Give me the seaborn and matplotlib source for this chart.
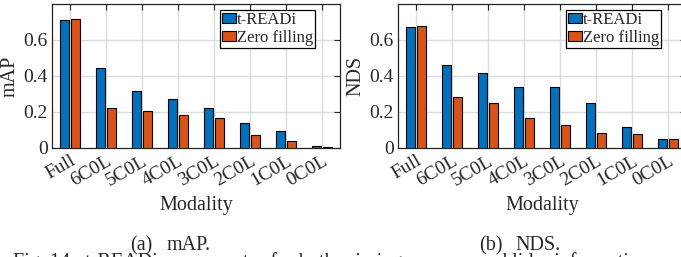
import matplotlib
matplotlib.use("Agg")
import matplotlib.pyplot as plt
import seaborn as sns
import pandas as pd

modalities = ["Full", "6C0L", "5C0L", "4C0L", "3C0L", "2C0L", "1C0L", "0C0L"]
methods = ["t-READi", "Zero filling"]
map_treadi = [0.711, 0.443, 0.318, 0.272, 0.222, 0.141, 0.096, 0.011]
map_zero = [0.715, 0.220, 0.207, 0.185, 0.167, 0.072, 0.037, 0.007]
nds_treadi = [0.674, 0.461, 0.418, 0.341, 0.337, 0.252, 0.117, 0.048]
nds_zero = [0.678, 0.285, 0.248, 0.165, 0.128, 0.085, 0.076, 0.048]
yticks = [0, 0.2, 0.4, 0.6]
ytick_labels = ["0", "0.2", "0.4", "0.6"]

sns.set_style("white")
plt.rcParams["font.family"] = ["Liberation Serif", "DejaVu Serif"]
plt.rcParams["mathtext.fontset"] = "stix"

blue = "#0072BD"
orange = "#D95319"
axcol = "#262626"

def long_df(a, b, name):
    return pd.DataFrame({
        "Modality": modalities * 2,
        name: list(a) + list(b),
        "Method": [methods[0]] * len(modalities) + [methods[1]] * len(modalities),
    })

df_map = long_df(map_treadi, map_zero, "mAP")
df_nds = long_df(nds_treadi, nds_zero, "NDS")

W, H = 681, 257
fig = plt.figure(figsize=(W / 100, H / 100), dpi=100)

ax_w = 288 / W
ax_h = 144 / H
ax_b = (H - 148) / H
ax1 = fig.add_axes([52 / W, ax_b, ax_w, ax_h])
ax2 = fig.add_axes([398 / W, ax_b, ax_w, ax_h])

for ax, df, col in [(ax1, df_map, "mAP"), (ax2, df_nds, "NDS")]:
    sns.barplot(data=df, x="Modality", y=col, hue="Method", order=modalities,
                hue_order=methods, palette=[blue, orange], saturation=1,
                width=0.56, gap=0.1, edgecolor="black", linewidth=0.8,
                ax=ax, zorder=3)
    ax.set_xlim(-0.5, 7.5)
    ax.set_ylim(0, 0.8)
    ax.set_yticks(yticks)
    ax.set_yticklabels(ytick_labels)
    ax.set_axisbelow(True)
    ax.grid(True, axis="both", color="#dcdcdc", linewidth=1.0, zorder=0)
    ax.tick_params(axis="both", direction="in", length=4, width=0.8,
                   top=True, right=True, colors=axcol, labelsize=14, pad=3)
    for lbl in ax.get_xticklabels():
        lbl.set_rotation(30)
        lbl.set_ha("right")
        lbl.set_rotation_mode("anchor")
    for s in ax.spines.values():
        s.set_color(axcol)
        s.set_linewidth(0.9)
    ax.set_xlabel("Modality", fontsize=14.5, color=axcol, labelpad=5)
    ax.set_ylabel(col, fontsize=14.5, color=axcol, labelpad=3)
    leg = ax.legend(loc="upper right", bbox_to_anchor=(0.913, 0.958),
                    borderaxespad=0, fontsize=12, frameon=True, fancybox=False,
                    framealpha=1, edgecolor="black", handlelength=0.85,
                    handleheight=0.55, handletextpad=0.05, borderpad=0.12,
                    labelspacing=0.1)
    leg.get_frame().set_linewidth(0.9)

fs_cap = 14.5
fig.text(152 / W, (H - 250) / H, "(a)", ha="right", va="baseline", fontsize=fs_cap)
fig.text(167 / W, (H - 250) / H, "mAP.", ha="left", va="baseline", fontsize=fs_cap)
fig.text(503 / W, (H - 250) / H, "(b)", ha="right", va="baseline", fontsize=fs_cap)
fig.text(515 / W, (H - 250) / H, "NDS.", ha="left", va="baseline", fontsize=fs_cap)
fig.text(13 / W, (H - 267) / H,
         "Fig. 14.  t-READi compensates for both missing cameras and lidar information",
         ha="left", va="baseline", fontsize=fs_cap)

fig.savefig("out.png", dpi=100)
